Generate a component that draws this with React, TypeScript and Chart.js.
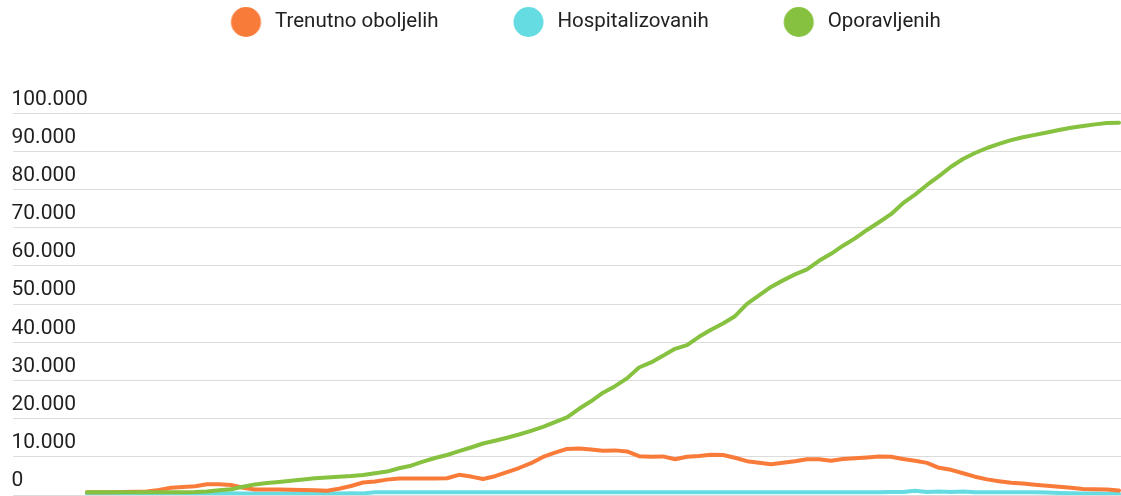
import { useEffect, useRef } from 'react';
import { Chart, registerables } from 'chart.js';

Chart.register(...registerables);

const seriesNames = ['Trenutno oboljelih', 'Hospitalizovanih', 'Oporavljenih'];
const seriesColors = ['#F97B3A', '#64DCE2', '#86C140'];

const active = [
  730, 730, 750, 780, 820, 900, 1310, 1910, 2120, 2300,
  2830, 2830, 2650, 1910, 1440, 1440, 1440, 1390, 1310, 1260,
  1100, 1650, 2360, 3280, 3560, 4030, 4320, 4320, 4320, 4320,
  4400, 5290, 4820, 4190, 4930, 5970, 7070, 8330, 9980, 11080,
  12080, 12180, 11920, 11580, 11690, 11420, 10170, 10010, 10110, 9380,
  10030, 10240, 10560, 10480, 9770, 8860, 8460, 8070, 8460, 8860,
  9380, 9380, 8990, 9430, 9640, 9850, 10110, 10030, 9430, 8990,
  8410, 7130, 6600, 5710, 4800, 4090, 3620, 3220, 3010, 2700,
  2440, 2170, 1910, 1600, 1520, 1470, 1180,
];

const hospitalized = [
  200, 200, 200, 200, 200, 200, 200, 200, 200, 200,
  260, 380, 480, 420, 420, 410, 420, 420, 430, 420,
  420, 420, 430, 420, 730, 730, 720, 730, 740, 730,
  730, 720, 730, 730, 740, 730, 730, 720, 730, 730,
  740, 730, 730, 720, 730, 730, 740, 730, 730, 720,
  730, 730, 740, 730, 730, 720, 730, 730, 740, 730,
  730, 720, 730, 730, 740, 730, 750, 760, 780, 1100,
  760, 900, 800, 900, 740, 730, 730, 720, 730, 700,
  650, 550, 450, 400, 380, 350, 330,
];

const recovered = [
  730, 730, 730, 730, 730, 730, 730, 730, 730, 790,
  920, 1260, 1520, 2170, 2780, 3140, 3430, 3720, 4060, 4380,
  4610, 4790, 4980, 5240, 5710, 6130, 7020, 7680, 8720, 9690,
  10480, 11480, 12450, 13490, 14230, 15010, 15850, 16820, 17840, 19070,
  20330, 22580, 24550, 26800, 28510, 30550, 33400, 34740, 36500, 38300,
  39270, 41450, 43310, 44930, 46850, 50090, 52300, 54520, 56230, 57800,
  59130, 61360, 63190, 65320, 67230, 69430, 71470, 73570, 76450, 78680,
  81220, 83530, 86010, 88030, 89600, 90910, 92010, 92960, 93740, 94350,
  94980, 95630, 96210, 96680, 97100, 97460, 97540,
];

const days = active.map((_, i) => i);

const yTickLabels = [
  '0', '10.000', '20.000', '30.000', '40.000', '50.000',
  '60.000', '70.000', '80.000', '90.000', '100.000',
];

const FONT_FAMILY = 'Roboto, "Liberation Sans", sans-serif';
const LEGEND_FONT = 20.5;

export default function App() {
  const ref = useRef<HTMLCanvasElement>(null);

  useEffect(() => {
    const canvas = ref.current;
    if (!canvas) return;

    const half = LEGEND_FONT / 2;
    const mctx = document.createElement('canvas').getContext('2d')!;
    mctx.font = `${LEGEND_FONT}px ${FONT_FAMILY}`;
    const S = seriesNames.reduce((s, n) => s + mctx.measureText(n).width, 0);
    // geometry: circle r=15, circle centre -> text = 29, text end -> next circle = 75, first circle left = 231
    const P = Math.max(8, 465 - S);
    const bw = 90 + 15 + 3.5 + (10.5 - half) - P + (half - 10.25) * 0; // = 108.5 + (10.5 - half) - P
    const off = bw / 2 + half - 29;

    const makeDot = (color: string) => {
      const r = 15;
      const w = Math.ceil(2 * (Math.abs(off) + r + 1));
      const h = 32;
      const c = document.createElement('canvas');
      c.width = w;
      c.height = h;
      const g = c.getContext('2d')!;
      g.fillStyle = color;
      g.beginPath();
      g.arc(w / 2 + off, h / 2, r, 0, Math.PI * 2);
      g.fill();
      return c;
    };

    const legendTop = 22 - half - P;
    const legendBottom = legendTop + LEGEND_FONT + P + 10;
    const spacer = 113.3 - legendBottom;

    const legendSpacer = {
      id: 'legendSpacer',
      beforeLayout(chart: any) {
        const lg = chart.legend;
        if (lg && !lg._spacerPatched) {
          const fit = lg.fit;
          lg.fit = function () {
            fit.call(this);
            this.height += spacer;
          };
          lg._spacerPatched = true;
        }
      },
    };

    const seriesData = [active, hospitalized, recovered];
    const orders = [1, 2, 0];

    const chart = new Chart(canvas, {
      type: 'line',
      data: {
        labels: days,
        datasets: seriesData.map((d, i) => ({
          label: seriesNames[i],
          data: d,
          borderColor: seriesColors[i],
          backgroundColor: seriesColors[i],
          borderWidth: 4,
          pointRadius: 0,
          pointHoverRadius: 0,
          pointStyle: makeDot(seriesColors[i]) as any,
          tension: 0,
          fill: false,
          order: orders[i],
        })),
      },
      options: {
        responsive: false,
        animation: false,
        events: [],
        layout: {
          padding: { top: legendTop, left: 13, right: 0, bottom: 1 },
        },
        elements: {
          line: { borderCapStyle: 'round', borderJoinStyle: 'round' },
        },
        plugins: {
          legend: {
            display: true,
            position: 'top',
            align: 'center',
            labels: {
              usePointStyle: true,
              pointStyleWidth: bw,
              padding: P,
              color: '#222222',
              font: { family: FONT_FAMILY, size: LEGEND_FONT },
              sort: (a: any, b: any) => a.datasetIndex - b.datasetIndex,
            },
          },
          tooltip: { enabled: false },
          title: { display: false },
        },
        scales: {
          x: {
            type: 'linear',
            display: false,
            min: -74 / 12,
            max: -74 / 12 + 1108 / 12,
          },
          y: {
            min: 0,
            max: 100000,
            border: { display: false },
            grid: { color: '#dcdcdc', lineWidth: 1, drawTicks: false },
            ticks: {
              stepSize: 10000,
              mirror: true,
              padding: -0.5,
              labelOffset: -14,
              color: '#1f1f1f',
              font: { family: FONT_FAMILY, size: 21, lineHeight: 0 },
              callback: (_v: any, i: number) => yTickLabels[i],
            },
          },
        },
      },
      plugins: [legendSpacer],
    } as any);

    return () => chart.destroy();
  }, []);

  return (
    <canvas
      ref={ref}
      width={1121}
      height={496}
      style={{ position: 'absolute', left: 0, top: 0, display: 'block' }}
    />
  );
}
